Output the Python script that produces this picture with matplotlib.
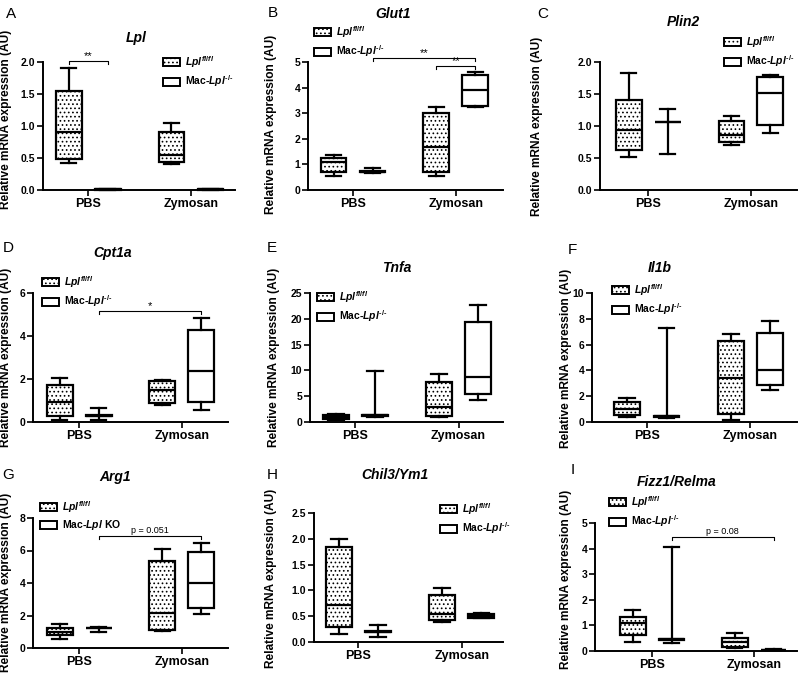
import numpy as np
import matplotlib
matplotlib.use('Agg')
import matplotlib.pyplot as plt
from matplotlib.patches import Patch

plt.rcParams['font.family'] = ['Liberation Sans', 'DejaVu Sans']
plt.rcParams['mathtext.fontset'] = 'custom'
plt.rcParams['mathtext.it'] = 'Liberation Sans:italic:bold'
plt.rcParams['mathtext.rm'] = 'Liberation Sans:bold'
plt.rcParams['mathtext.bf'] = 'Liberation Sans:bold'
plt.rcParams['hatch.linewidth'] = 0.7

groups = ['PBS', 'Zymosan']

# five-number summaries [min, q1, median, q3, max]; first row PBS, second Zymosan
lpl_fl = [[0.42, 0.49, 0.90, 1.55, 1.90], [0.40, 0.43, 0.55, 0.91, 1.04]]
lpl_ko = [[0.00, 0.005, 0.01, 0.012, 0.015], [0.00, 0.005, 0.01, 0.012, 0.015]]
glut1_fl = [[0.55, 0.70, 1.08, 1.25, 1.37], [0.55, 0.70, 1.67, 3.00, 3.25]]
glut1_ko = [[0.65, 0.69, 0.72, 0.73, 0.85], [3.23, 3.28, 3.90, 4.50, 4.62]]
plin2_fl = [[0.52, 0.63, 0.94, 1.40, 1.83], [0.71, 0.75, 0.86, 1.08, 1.16]]
plin2_ko = [[0.56, 1.06, 1.06, 1.06, 1.26], [0.89, 1.02, 1.51, 1.76, 1.80]]
cpt1a_fl = [[0.08, 0.28, 0.93, 1.71, 2.03], [0.78, 0.89, 1.48, 1.92, 1.97]]
cpt1a_ko = [[0.08, 0.28, 0.30, 0.31, 0.67], [0.55, 0.93, 2.38, 4.28, 4.83]]
tnfa_fl = [[0.35, 0.55, 0.90, 1.30, 1.50], [1.00, 1.20, 2.90, 7.80, 9.30]]
tnfa_ko = [[0.90, 1.25, 1.40, 1.45, 9.90], [4.35, 5.40, 8.80, 19.3, 22.7]]
il1b_fl = [[0.36, 0.52, 1.00, 1.55, 1.86], [0.18, 0.62, 3.41, 6.30, 6.82]]
il1b_ko = [[0.31, 0.39, 0.45, 0.49, 7.29], [2.50, 2.84, 4.00, 6.90, 7.86]]
arg1_fl = [[0.58, 0.82, 0.99, 1.24, 1.46], [1.05, 1.09, 2.16, 5.36, 6.10]]
arg1_ko = [[0.99, 1.22, 1.25, 1.26, 1.30], [2.08, 2.49, 3.98, 5.88, 6.45]]
chil3_fl = [[0.16, 0.29, 0.71, 1.84, 1.99], [0.39, 0.42, 0.54, 0.92, 1.05]]
chil3_ko = [[0.10, 0.19, 0.20, 0.21, 0.32], [0.46, 0.47, 0.50, 0.55, 0.56]]
fizz1_fl = [[0.37, 0.63, 1.09, 1.31, 1.59], [0.10, 0.14, 0.35, 0.52, 0.70]]
fizz1_ko = [[0.33, 0.42, 0.46, 0.48, 4.08], [0.02, 0.03, 0.04, 0.05, 0.06]]

W, H = 800, 681
fig = plt.figure(figsize=(W / 100, H / 100), dpi=100)


def fx(x):
    return x / W


def fy(y):
    return 1 - y / H


lab_fl = r'$\mathit{Lpl}^{\mathit{fl/fl}}$'
lab_ko = r'Mac-$\mathit{Lpl}^{\text{-/-}}$'

# letter, title, fl, ko, ymax, ystep, fmt, ko label, brackets,
# axes px (left, right, top, bottom), xlim, letter px, title px, ylabel px, legend px
panels = [
    ('A', 'Lpl', lpl_fl, lpl_ko, 2.0, 0.5, '%.1f', lab_ko,
     [((0, 0), (0, 1), 2.02, '**')],
     (43, 235, 62, 190), (-0.44, 1.43), (11, 14), (136, 38), (12, 119), (163, 54)),
    ('B', 'Glut1', glut1_fl, glut1_ko, 5, 1, '%d', lab_ko,
     [((0, 1), (1, 1), 5.15, '**'), ((1, 0), (1, 1), 4.85, '**')],
     (308, 503, 62, 190), (-0.44, 1.46), (273, 13), (393, 14), (277, 124), (314, 24)),
    ('C', 'Plin2', plin2_fl, plin2_ko, 2.0, 0.5, '%.1f', lab_ko, [],
     (600, 797, 62, 190), (-0.47, 1.45), (543, 14), (683, 22), (543, 126), (724, 34)),
    ('D', 'Cpt1a', cpt1a_fl, cpt1a_ko, 6, 2, '%d', lab_ko,
     [((0, 1), (1, 1), 5.15, '*')],
     (33, 228, 293, 422), (-0.45, 1.45), (8, 248), (113, 253), (12, 357), (42, 274)),
    ('E', 'Tnfa', tnfa_fl, tnfa_ko, 25, 5, '%d', lab_ko, [],
     (310, 503, 293, 422), (-0.44, 1.43), (272, 248), (397, 268), (280, 357), (317, 289)),
    ('F', 'Il1b', il1b_fl, il1b_ko, 10, 2, '%d', lab_ko, [],
     (592, 797, 293, 422), (-0.53, 1.45), (572, 250), (660, 268), (572, 358), (612, 282)),
    ('G', 'Arg1', arg1_fl, arg1_ko, 8, 2, '%d', r'Mac-$\mathit{Lpl}$ KO',
     [((0, 1), (1, 1), 6.9, 'p = 0.051')],
     (33, 228, 518, 648), (-0.45, 1.45), (8, 475), (115, 477), (12, 582), (40, 499)),
    ('H', 'Chil3/Ym1', chil3_fl, chil3_ko, 2.5, 0.5, '%.1f', lab_ko, [],
     (314, 503, 513, 642), (-0.43, 1.40), (272, 475), (395, 475), (277, 578), (440, 501)),
    ('I', 'Fizz1/Relma', fizz1_fl, fizz1_ko, 5, 1, '%d', lab_ko,
     [((0, 1), (1, 1), 4.44, 'p = 0.08')],
     (595, 797, 523, 651), (-0.56, 1.42), (573, 470), (677, 482), (572, 579), (609, 494)),
]

off = 0.19
bw = 0.25
lw = 1.6

for (letter, title, fl, ko, ymax, ystep, fmt, kolab, brackets,
     rect, xlim, lpos, tpos, ypos, legpos) in panels:
    left, right, top, bottom = rect
    ax = fig.add_axes([fx(left), fy(bottom), (right - left) / W, (bottom - top) / H])

    stats, positions, hatched = [], [], []
    for g in range(len(groups)):
        for s, series in enumerate((fl, ko)):
            lo, q1, med, q3, hi = series[g]
            stats.append(dict(whislo=lo, q1=q1, med=med, q3=q3, whishi=hi, fliers=[]))
            positions.append(g + (off if s else -off))
            hatched.append(s == 0)

    bp = ax.bxp(stats, positions=positions, widths=bw, patch_artist=True,
                showfliers=False, capwidths=bw * 0.6,
                boxprops=dict(linewidth=lw, edgecolor='black', facecolor='white'),
                medianprops=dict(color='black', linewidth=lw),
                whiskerprops=dict(color='black', linewidth=lw),
                capprops=dict(color='black', linewidth=lw))
    for box, h in zip(bp['boxes'], hatched):
        if h:
            box.set_hatch('....')
    for art in bp['boxes'] + bp['medians'] + bp['whiskers'] + bp['caps']:
        art.set_clip_on(False)

    ax.set_xlim(*xlim)
    ax.set_ylim(0, ymax)
    yt = np.arange(0, ymax + ystep / 2, ystep)
    ax.set_yticks(yt)
    ax.set_yticklabels([fmt % v for v in yt])
    ax.set_xticks(range(len(groups)))
    ax.set_xticklabels(groups)
    for sp in ['top', 'right']:
        ax.spines[sp].set_visible(False)
    for sp in ['left', 'bottom']:
        ax.spines[sp].set_linewidth(1.4)
    ax.tick_params(axis='y', direction='out', length=4, width=1.2, pad=1.5,
                   labelsize=7.5)
    ax.tick_params(axis='x', direction='out', length=4, width=1.2, pad=2,
                   labelsize=9)
    for t in ax.get_xticklabels() + ax.get_yticklabels():
        t.set_fontweight('bold')

    ax.set_ylabel('Relative mRNA expression (AU)', fontsize=8.6, fontweight='bold')
    ax.yaxis.set_label_coords(fx(ypos[0]), fy(ypos[1]), transform=fig.transFigure)

    # significance brackets
    d = ymax * 3 / (bottom - top)
    for (g1, s1), (g2, s2), yb, txt in brackets:
        x1 = g1 + (off if s1 else -off)
        x2 = g2 + (off if s2 else -off)
        ax.plot([x1, x1, x2, x2], [yb - d, yb, yb, yb - d], color='black',
                lw=0.8, clip_on=False)
        star = txt.startswith('*')
        ax.text((x1 + x2) / 2, yb + d * (0.0 if star else 0.3), txt, ha='center',
                va='bottom', fontsize=8 if star else 6.5)

    handles = [Patch(facecolor='white', edgecolor='black', hatch='....', lw=1.4),
               Patch(facecolor='white', edgecolor='black', lw=1.4)]
    ax.legend(handles, [lab_fl, kolab], loc='upper left',
              bbox_to_anchor=(fx(legpos[0]), fy(legpos[1])),
              bbox_transform=fig.transFigure, frameon=False, borderpad=0,
              borderaxespad=0, handlelength=1.6, handleheight=0.8,
              handletextpad=0.5, labelspacing=0.35,
              prop=dict(size=7.5, weight='bold'))

    fig.text(fx(lpos[0]), fy(lpos[1]), letter, fontsize=11, ha='center', va='center')
    fig.text(fx(tpos[0]), fy(tpos[1]), title, fontsize=10, fontweight='bold',
             fontstyle='italic', ha='center', va='center')

fig.savefig('out.png', dpi=100)
